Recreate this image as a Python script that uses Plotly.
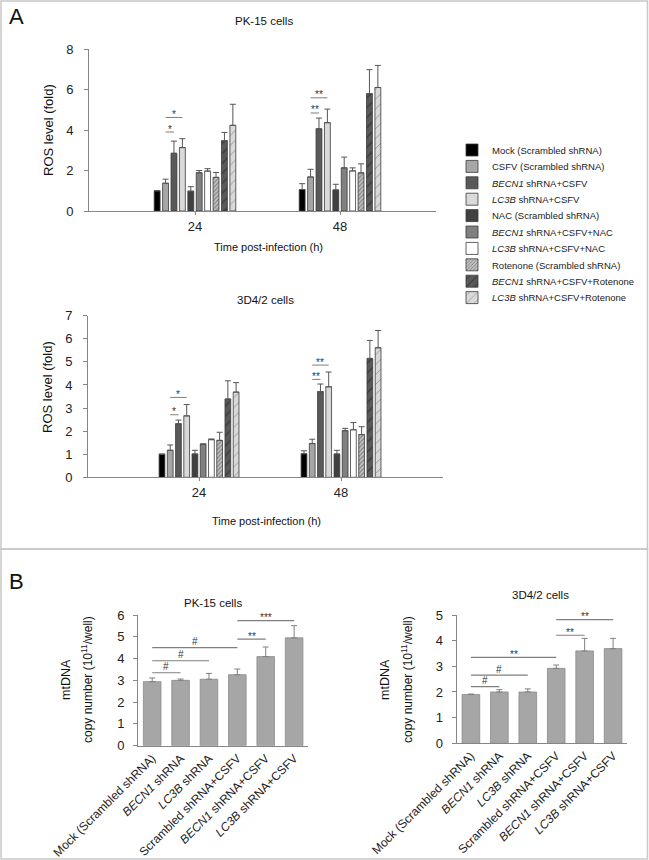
import plotly.graph_objects as go

# ---------------- Panel A data ----------------
series_names = [
    "Mock (Scrambled shRNA)",
    "CSFV (Scrambled shRNA)",
    "<i>BECN1</i> shRNA+CSFV",
    "<i>LC3B</i> shRNA+CSFV",
    "NAC (Scrambled shRNA)",
    "<i>BECN1</i> shRNA+CSFV+NAC",
    "<i>LC3B</i> shRNA+CSFV+NAC",
    "Rotenone (Scrambled shRNA)",
    "<i>BECN1</i> shRNA+CSFV+Rotenone",
    "<i>LC3B</i> shRNA+CSFV+Rotenone",
]
time_labels = ["24", "48"]
time_pos = [0, 1]

pk15_24_mean = [1.00, 1.37, 2.85, 3.13, 0.98, 1.89, 1.97, 1.66, 3.47, 4.23]
pk15_24_err = [0.00, 0.20, 0.60, 0.44, 0.22, 0.11, 0.12, 0.24, 0.41, 1.04]
pk15_48_mean = [1.06, 1.68, 4.06, 4.36, 1.04, 2.13, 1.98, 1.88, 5.79, 6.10]
pk15_48_err = [0.29, 0.38, 0.53, 0.67, 0.28, 0.53, 0.15, 0.45, 1.19, 1.09]

d3_24_mean = [1.00, 1.17, 2.32, 2.66, 1.01, 1.43, 1.63, 1.60, 3.39, 3.69]
d3_24_err = [0.00, 0.23, 0.16, 0.49, 0.16, 0.02, 0.03, 0.35, 0.79, 0.41]
d3_48_mean = [1.02, 1.46, 3.71, 3.92, 1.01, 2.02, 2.06, 1.85, 5.15, 5.61]
d3_48_err = [0.13, 0.19, 0.33, 0.64, 0.16, 0.10, 0.31, 0.34, 0.78, 0.75]

# significance brackets: (time index, from series, to series, y level, label)
pk15_sig = [(0, 1, 2, 3.90, "*"), (0, 1, 3, 4.62, "*"),
            (1, 1, 2, 4.84, "**"), (1, 1, 3, 5.59, "**")]
d3_sig = [(0, 1, 2, 2.71, "*"), (0, 1, 3, 3.46, "*"),
          (1, 1, 2, 4.24, "**"), (1, 1, 3, 4.86, "**")]

# ---------------- Panel B data ----------------
b_categories = [
    "Mock (Scrambled shRNA)",
    "<i>BECN1</i> shRNA",
    "<i>LC3B</i> shRNA",
    "Scrambled shRNA+CSFV",
    "<i>BECN1</i> shRNA+CSFV",
    "<i>LC3B</i> shRNA+CSFV",
]
b_pk15_mean = [2.94, 3.00, 3.05, 3.26, 4.09, 4.95]
b_pk15_err = [0.17, 0.06, 0.27, 0.26, 0.44, 0.56]
b_d3_mean = [1.90, 2.00, 2.00, 2.92, 3.60, 3.69]
b_d3_err = [0.02, 0.09, 0.12, 0.13, 0.49, 0.40]

# (from category, to category, y level, label)
b_pk15_sig = [(0, 1, 3.35, "#"), (0, 2, 3.90, "#"), (0, 3, 4.50, "#"),
              (3, 4, 4.89, "**"), (3, 5, 5.74, "***")]
b_d3_sig = [(0, 1, 2.21, "#"), (0, 2, 2.66, "#"), (0, 3, 3.35, "**"),
            (3, 4, 4.21, "**"), (3, 5, 4.82, "**")]

# ---------------- styling ----------------
W, H = 649, 860
FONT = "Arial, Liberation Sans, sans-serif"
AXC = "#868686"
fill_colors = ["#000000", "#a6a6a6", "#595959", "#d9d9d9", "#404040",
               "#808080", "#ffffff", "#c0c0c0", "#595959", "#d9d9d9"]
pattern_fg = [None, None, None, None, None, None, None, "#3a3a3a", "#1a1a1a", "#606060"]
pattern_size = [0, 0, 0, 0, 0, 0, 0, 3, 7, 7]
pattern_sol = [0, 0, 0, 0, 0, 0, 0, 0.35, 0.18, 0.14]

BARGAP = 0.42
NSER = len(series_names)
SLOT = (1 - BARGAP) / NSER


def px(x, y):
    return x / W, 1 - y / H


fig = go.Figure()


def marker_for(i):
    m = dict(color=fill_colors[i], line=dict(color="#3a3a3a", width=0.8))
    if pattern_fg[i]:
        m["pattern"] = dict(shape="/", fgcolor=pattern_fg[i], bgcolor=fill_colors[i],
                            size=pattern_size[i], solidity=pattern_sol[i])
    return m


for i in range(NSER):
    for panel, (m24, e24, m48, e48) in enumerate([
            (pk15_24_mean, pk15_24_err, pk15_48_mean, pk15_48_err),
            (d3_24_mean, d3_24_err, d3_48_mean, d3_48_err)]):
        fig.add_trace(go.Bar(
            x=time_pos, y=[m24[i], m48[i]],
            name=series_names[i],
            marker=marker_for(i),
            error_y=dict(type="data", array=[e24[i], e48[i]], arrayminus=[0, 0],
                         symmetric=False, color="#555555", thickness=1, width=3),
            xaxis="x" if panel == 0 else "x2",
            yaxis="y" if panel == 0 else "y2",
            showlegend=(panel == 0),
            legend="legend" if i == 0 else f"legend{i+1}",
        ))

b_x = list(range(len(b_categories)))
for ax, (mean, err) in [("3", (b_pk15_mean, b_pk15_err)), ("4", (b_d3_mean, b_d3_err))]:
    fig.add_trace(go.Bar(
        x=b_x, y=mean, width=0.62,
        marker=dict(color="#a6a6a6", line=dict(color="#8a8a8a", width=0.8)),
        error_y=dict(type="data", array=err, arrayminus=[0] * len(err), symmetric=False,
                     color="#808080", thickness=1, width=3),
        xaxis="x" + ax, yaxis="y" + ax, showlegend=False,
    ))

shapes = []
annotations = []

# significance brackets A
for sig, xa, ya in [(pk15_sig, "x", "y"), (d3_sig, "x2", "y2")]:
    for t, a, b, yv, lab in sig:
        xa0 = time_pos[t] + (a - (NSER - 1) / 2) * SLOT
        xb0 = time_pos[t] + (b - (NSER - 1) / 2) * SLOT
        shapes.append(dict(type="line", xref=xa, yref=ya, x0=xa0, x1=xb0, y0=yv, y1=yv,
                           line=dict(color="#7f7f7f", width=1)))
        annotations.append(dict(xref=xa, yref=ya, x=(xa0 + xb0) / 2, y=yv, text=lab,
                                showarrow=False, yanchor="middle", yshift=3,
                                font=dict(size=10, color="#333", family=FONT)))

for sig, xa, ya in [(b_pk15_sig, "x3", "y3"), (b_d3_sig, "x4", "y4")]:
    for a, b, yv, lab in sig:
        shapes.append(dict(type="line", xref=xa, yref=ya, x0=b_x[a], x1=b_x[b], y0=yv, y1=yv,
                           line=dict(color="#7f7f7f", width=1.2)))
        annotations.append(dict(xref=xa, yref=ya, x=(b_x[a] + b_x[b]) / 2, y=yv, text=lab,
                                showarrow=False, yanchor="middle",
                                yshift=6 if lab == "#" else 3,
                                font=dict(size=10, color="#333", family=FONT)))

# panel borders
for (x0, y0, x1, y1) in [(1, 1, 647.5, 549), (1, 549, 647.5, 859)]:
    a0 = px(x0, y1)
    a1 = px(x1, y0)
    shapes.append(dict(type="rect", xref="paper", yref="paper", x0=a0[0], y0=a0[1],
                       x1=a1[0], y1=a1[1], line=dict(color="#c8c8c8", width=1.5)))


def ann(x, y, text, size, angle=0, color="#111"):
    p = px(x, y)
    annotations.append(dict(xref="paper", yref="paper", x=p[0], y=p[1], text=text,
                            showarrow=False, textangle=angle, xanchor="center",
                            yanchor="middle", font=dict(size=size, color=color, family=FONT)))


ann(16, 17, "A", 22)
ann(16, 581, "B", 22)
ann(264, 21, "PK-15 cells", 11.5)
ann(265, 300, "3D4/2 cells", 11.5)
ann(48, 130, "ROS level (fold)", 13, -90)
ann(48, 387, "ROS level (fold)", 13, -90)
ann(268, 247, "Time post-infection (h)", 11)
ann(266, 521, "Time post-infection (h)", 11)
ann(213, 603, "PK-15 cells", 11.5)
ann(540, 595, "3D4/2 cells", 11.5)
ann(66, 680, "mtDNA", 12.5, -90)
ann(87, 680, "copy number (10<sup>11</sup>/well)", 12, -90)
ann(385, 680, "mtDNA", 12.5, -90)
ann(407, 680, "copy number (10<sup>11</sup>/well)", 12, -90)

axis_common = dict(showline=True, linecolor=AXC, linewidth=1, showgrid=False, zeroline=False,
                   tickcolor=AXC, ticks="outside", automargin=False,
                   tickfont=dict(size=13, color="#222", family=FONT))


def xd(a, b):
    return [a / W, b / W]


def yd(top, bottom):
    return [1 - bottom / H, 1 - top / H]


layout = dict(
    width=W, height=H, margin=dict(l=0, r=0, t=0, b=0, autoexpand=False),
    paper_bgcolor="white", plot_bgcolor="rgba(0,0,0,0)",
    barmode="group", bargap=BARGAP, bargroupgap=0.3,
    font=dict(family=FONT, color="#222"),
    xaxis=dict(domain=xd(89, 436), anchor="y", range=[-0.731, 1.662], tickvals=time_pos,
               ticktext=time_labels, ticklen=3, **axis_common),
    yaxis=dict(domain=yd(49, 211), anchor="x", range=[0, 8], dtick=2, ticklen=4,
               ticklabelstandoff=8, **axis_common),
    xaxis2=dict(domain=xd(88, 443), anchor="y2", range=[-0.782, 1.718], tickvals=time_pos,
                ticktext=time_labels, ticklen=3, **axis_common),
    yaxis2=dict(domain=yd(315.7, 477.3), anchor="x2", range=[0, 7], dtick=1, ticklen=4,
                ticklabelstandoff=8, **axis_common),
    xaxis3=dict(domain=xd(138, 308.3), anchor="y3", range=[-0.5, 5.5], tickvals=b_x,
                ticktext=b_categories, tickangle=-45, ticklen=0,
                **{**axis_common, "tickfont": dict(size=12, color="#222", family=FONT)}),
    yaxis3=dict(domain=yd(615, 745.7), anchor="x3", range=[0, 6], dtick=1, ticklen=4,
                ticklabelstandoff=6, **axis_common),
    xaxis4=dict(domain=xd(456.7, 627.3), anchor="y4", range=[-0.5, 5.5], tickvals=b_x,
                ticktext=b_categories, tickangle=-45, ticklen=0,
                **{**axis_common, "tickfont": dict(size=12, color="#222", family=FONT)}),
    yaxis4=dict(domain=yd(615, 743.3), anchor="x4", range=[0, 5], dtick=1, ticklen=4,
                ticklabelstandoff=6, **axis_common),
    shapes=shapes,
    annotations=annotations,
)

# one legend box per entry, so entries can be spaced as in the original
for i in range(NSER):
    key = "legend" if i == 0 else f"legend{i+1}"
    p = px(452, 150 + i * 16.4)
    layout[key] = dict(x=p[0], y=p[1], xref="container", yref="container",
                       xanchor="left", yanchor="middle",
                       bgcolor="rgba(0,0,0,0)", borderwidth=0,
                       font=dict(size=9.5, color="#222", family=FONT),
                       itemwidth=30, tracegroupgap=0)

fig.update_layout(**layout)
fig.write_html("out.html", config={"displayModeBar": False},
               post_script="document.body.style.margin='0';document.body.style.overflow='hidden';")
